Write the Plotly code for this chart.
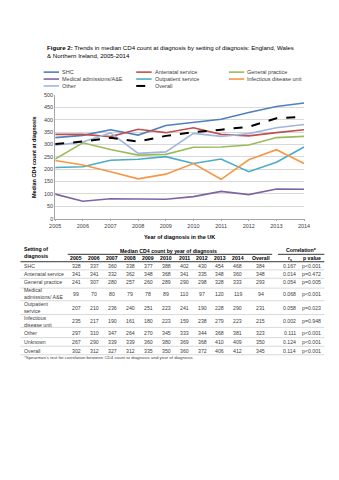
import plotly.graph_objects as go

W, H = 339, 480

years = [2005, 2006, 2007, 2008, 2009, 2010, 2011, 2012, 2013, 2014]

shc = [328, 337, 360, 338, 377, 388, 402, 430, 454, 468]
antenatal = [341, 341, 332, 362, 348, 368, 341, 335, 348, 360]
general_practice = [241, 307, 280, 257, 260, 289, 290, 298, 328, 333]
medical_ae = [99, 70, 80, 79, 78, 89, 110, 97, 120, 119]
outpatient = [207, 210, 236, 240, 251, 223, 241, 190, 228, 290]
infectious = [235, 217, 190, 161, 180, 223, 159, 238, 279, 223]
other = [297, 310, 347, 264, 270, 345, 333, 344, 368, 381]
unknown = [267, 290, 339, 339, 360, 380, 369, 368, 410, 409]
overall = [302, 312, 327, 312, 335, 350, 360, 372, 406, 412]

overall_median = [384, 348, 293, 94, 231, 215, 323, 350, 345]
corr_rs = ["0.167", "0.014", "0.054", "0.068", "0.058", "0.002", "0.111", "0.124", "0.114"]
corr_p = ["p<0.001", "p=0.472", "p=0.005", "p<0.001", "p=0.023", "p=0.948", "p<0.001", "p<0.001", "p<0.001"]

table_labels = ["SHC", "Antenatal service", "General practice", "Medical<br>admissions/ A&E",
                "Outpatient<br>service", "Infectious<br>disease unit", "Other", "Unknown", "Overall"]
table_series = [shc, antenatal, general_practice, medical_ae, outpatient, infectious, other, unknown, overall]

chart_names = ["SHC", "Antenatal service", "General practice", "Medical admissions/A&E",
               "Outpatient service", "Infectious disease unit", "Other", "Overall"]
chart_series = [shc, antenatal, general_practice, medical_ae, outpatient, infectious, other, overall]
chart_colors = ["#4F81BD", "#C0504D", "#9BBB59", "#8064A2", "#4BACC6", "#F79646", "#9FB6E0", "#000000"]
chart_dash = ["solid"] * 7 + ["dash"]

FONT = "Liberation Sans, Arial, sans-serif"


def px(x):
    return x / W


def py(y):
    return 1 - y / H


fig = go.Figure()
for name, vals, col, dash in zip(chart_names, chart_series, chart_colors, chart_dash):
    fig.add_trace(go.Scatter(x=years, y=vals, mode="lines", name=name,
                             line=dict(color=col, width=2 if dash == "dash" else 1.6, dash=dash),
                             showlegend=False))

annotations = []
shapes = []

# Title
annotations.append(dict(x=px(40), y=py(49), xref="paper", yref="paper", xanchor="left", yanchor="middle",
                        align="left", showarrow=False,
                        text="<b>Figure 2:</b> Trends in median CD4 count at diagnosis by setting of diagnosis: England, Wales<br>& Northern Ireland, 2005-2014",
                        font=dict(size=6.1, color="#000000", family=FONT)))

# Custom legend
leg_cols = [39, 135, 231]
leg_rows = [70, 77, 84]
for i, (name, col, dash) in enumerate(zip(chart_names, chart_colors, chart_dash)):
    r, c = divmod(i, 3)
    x0 = leg_cols[c]
    y0 = leg_rows[r]
    shapes.append(dict(type="line", xref="paper", yref="paper", x0=px(x0), x1=px(x0 + 16),
                       y0=py(y0), y1=py(y0), line=dict(color=col, width=2 if dash == "dash" else 1.6, dash=dash)))
    annotations.append(dict(x=px(x0 + 17), y=py(y0), xref="paper", yref="paper", xanchor="left",
                            yanchor="middle", showarrow=False, text=name,
                            font=dict(size=5.5, color="#404040", family=FONT)))

# Y axis title
annotations.append(dict(x=px(29), y=py(156), xref="paper", yref="paper", xanchor="center", yanchor="middle",
                        showarrow=False, textangle=-90, text="<b>Median CD4 count at diagnosis</b>",
                        font=dict(size=5.5, color="#000000", family=FONT)))
# X axis title
annotations.append(dict(x=px(180), y=py(237), xref="paper", yref="paper", xanchor="center", yanchor="middle",
                        showarrow=False, text="<b>Year of diagnosis in the UK</b>",
                        font=dict(size=5.5, color="#000000", family=FONT)))

# Table
col_x = [73 + 18.6 * i for i in range(10)]
ov_x, rs_x, p_x = 264, 294, 317
left_x = 17
tfont = dict(size=5.2, color="#404040", family=FONT)
hfont = dict(size=5.2, color="#000000", family=FONT)

annotations.append(dict(x=px(left_x), y=py(253), xref="paper", yref="paper", xanchor="left", yanchor="middle",
                        align="left", showarrow=False, text="<b>Setting of<br>diagnosis</b>", font=hfont))
annotations.append(dict(x=px(168), y=py(251), xref="paper", yref="paper", xanchor="center", yanchor="middle",
                        showarrow=False, text="<b>Median CD4 count by year of diagnosis</b>", font=hfont))
annotations.append(dict(x=px(306), y=py(250), xref="paper", yref="paper", xanchor="center", yanchor="middle",
                        showarrow=False, text="<b>Correlation*</b>", font=hfont))
header_cells = [str(y) for y in years] + ["Overall"]
for txt, x in zip(header_cells, col_x + [ov_x]):
    annotations.append(dict(x=px(x), y=py(258.5), xref="paper", yref="paper", xanchor="center", yanchor="middle",
                            showarrow=False, text="<b>%s</b>" % txt, font=hfont))
annotations.append(dict(x=px(rs_x), y=py(258.5), xref="paper", yref="paper", xanchor="center", yanchor="middle",
                        showarrow=False, text="<b>r<sub>s</sub></b>", font=hfont))
annotations.append(dict(x=px(p_x), y=py(258.5), xref="paper", yref="paper", xanchor="center", yanchor="middle",
                        showarrow=False, text="<b>p value</b>", font=hfont))

shapes.append(dict(type="line", xref="paper", yref="paper", x0=px(64), x1=px(276), y0=py(254.5), y1=py(254.5),
                   line=dict(color="#000000", width=0.8)))
shapes.append(dict(type="line", xref="paper", yref="paper", x0=px(282), x1=px(330), y0=py(254.5), y1=py(254.5),
                   line=dict(color="#000000", width=0.8)))
shapes.append(dict(type="line", xref="paper", yref="paper", x0=px(15), x1=px(330), y0=py(262), y1=py(262),
                   line=dict(color="#000000", width=0.8)))

row_y = [266, 274.5, 283, 294.5, 308.5, 322.5, 334.5, 343.2, 352]
for i, (lab, vals, om, rs, pv) in enumerate(zip(table_labels, table_series, overall_median, corr_rs, corr_p)):
    y = row_y[i]
    annotations.append(dict(x=px(left_x), y=py(y), xref="paper", yref="paper", xanchor="left", yanchor="middle",
                            align="left", showarrow=False, text=lab, font=tfont))
    for v, x in zip(vals + [om], col_x + [ov_x]):
        annotations.append(dict(x=px(x), y=py(y), xref="paper", yref="paper", xanchor="center", yanchor="middle",
                                showarrow=False, text=str(v), font=tfont))
    annotations.append(dict(x=px(rs_x), y=py(y), xref="paper", yref="paper", xanchor="center", yanchor="middle",
                            showarrow=False, text=rs, font=tfont))
    annotations.append(dict(x=px(p_x), y=py(y), xref="paper", yref="paper", xanchor="center", yanchor="middle",
                            showarrow=False, text=pv, font=tfont))
    if i < len(table_labels) - 1:
        yl = (row_y[i] + row_y[i + 1]) / 2
    else:
        yl = y + 4.2
    shapes.append(dict(type="line", xref="paper", yref="paper", x0=px(15), x1=px(330), y0=py(yl), y1=py(yl),
                       line=dict(color="#BFBFBF", width=0.6)))

annotations.append(dict(x=px(left_x), y=py(359), xref="paper", yref="paper", xanchor="left", yanchor="middle",
                        showarrow=False,
                        text="*Spearman's test for correlation between CD4 count at diagnosis and year of diagnosis",
                        font=dict(size=4.4, color="#404040", family=FONT)))

fig.update_layout(
    width=W, height=H,
    margin=dict(l=0, r=0, t=0, b=0),
    paper_bgcolor="#FFFFFF", plot_bgcolor="#FFFFFF",
    font=dict(family=FONT, size=5.5, color="#404040"),
    xaxis=dict(domain=[px(51), px(309)], range=[2005, 2014], tickmode="array", tickvals=years,
               ticktext=[str(y) for y in years], showgrid=False, zeroline=False,
               showline=True, linecolor="#A6A6A6", linewidth=0.8, ticks="outside", ticklen=2,
               tickcolor="#A6A6A6", tickfont=dict(size=5.5, color="#404040"), fixedrange=True),
    yaxis=dict(domain=[py(218.3), py(93.3)], range=[0, 500], tickmode="array",
               tickvals=list(range(0, 501, 50)), showgrid=True, gridcolor="#D9D9D9", gridwidth=0.8,
               zeroline=False, showline=True, linecolor="#A6A6A6", linewidth=0.8,
               ticks="", tickfont=dict(size=5.5, color="#404040"), fixedrange=True),
    annotations=annotations,
    shapes=shapes,
    showlegend=False,
)

fig.write_html("out.html")
